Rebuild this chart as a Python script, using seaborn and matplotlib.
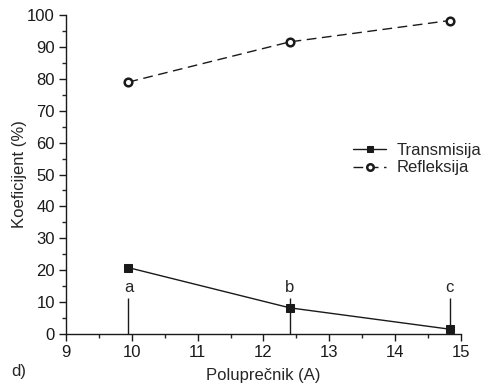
import matplotlib
matplotlib.use("Agg")
import matplotlib.pyplot as plt
import seaborn as sns
import pandas as pd
from matplotlib.ticker import MultipleLocator

radius = [9.95, 12.4, 14.83]
transmisija = [20.8, 8.2, 1.5]
refleksija = [79.0, 91.6, 98.3]
point_labels = ["a", "b", "c"]

sns.set_style("ticks")
plt.rcParams['font.family'] = ['Liberation Sans', 'DejaVu Sans']

df = pd.DataFrame({"r": radius, "T": transmisija, "R": refleksija})

fig = plt.figure(figsize=(4.92, 3.87), dpi=100)
ax = fig.add_axes([0.134, 0.137, 0.803, 0.824])

sns.lineplot(data=df, x="r", y="T", ax=ax, color="#1a1a1a", lw=1.0,
             marker="s", markersize=5.5, markerfacecolor="#1a1a1a",
             markeredgecolor="#1a1a1a", label="Transmisija")
sns.lineplot(data=df, x="r", y="R", ax=ax, color="#1a1a1a", lw=1.0,
             linestyle=(0, (7, 4)), marker="o", markersize=5.5,
             markerfacecolor="white", markeredgecolor="#1a1a1a",
             markeredgewidth=1.8, label="Refleksija")

for xv, lab in zip(radius, point_labels):
    ax.vlines(xv, 0, 11.2, color="#1a1a1a", lw=1.0)
    ax.text(xv, 12.3, lab, ha="center", va="bottom", fontsize=12)

ax.set_xlim(9, 15)
ax.set_ylim(0, 100)
ax.xaxis.set_major_locator(MultipleLocator(1))
ax.xaxis.set_minor_locator(MultipleLocator(0.5))
ax.yaxis.set_major_locator(MultipleLocator(10))
ax.yaxis.set_minor_locator(MultipleLocator(5))
ax.tick_params(which="major", direction="out", length=5, width=1, labelsize=12,
               colors="#1a1a1a", pad=3)
ax.tick_params(which="minor", direction="out", length=3, width=1)
sns.despine(ax=ax)
for s in ["left", "bottom"]:
    ax.spines[s].set_linewidth(1.0)
    ax.spines[s].set_color("#1a1a1a")

ax.set_xlabel("Polupre\u010dnik (A)", fontsize=12, labelpad=6)
ax.set_ylabel("Koeficijent (%)", fontsize=12, labelpad=0)

leg = ax.legend(loc="upper left", bbox_to_anchor=(0.71, 0.62), frameon=False,
                fontsize=12, handlelength=2.0, handletextpad=0.6,
                borderaxespad=0, labelspacing=0.15, markerscale=0.85)

fig.text(0.022, 0.028, "d)", fontsize=12)

fig.savefig("out.png", dpi=100)
